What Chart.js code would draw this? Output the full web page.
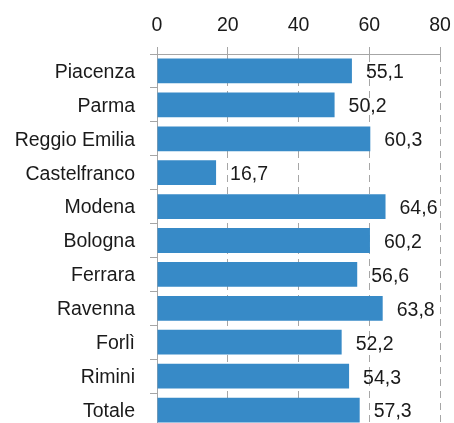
<!DOCTYPE html>
<html lang="it">
<head>
    <meta charset="UTF-8">
    <title>Valori per provincia</title>
    <script src="https://cdn.jsdelivr.net/npm/chart.js"></script>
    <style>
        html, body { margin: 0; padding: 0; background: #fff; overflow: hidden; }
        canvas { display: block; }
    </style>
</head>
<body>
    <canvas id="barChart" width="454" height="427"></canvas>

    <script>
        // Categorie e valori
        const labels = ['Piacenza', 'Parma', 'Reggio Emilia', 'Castelfranco', 'Modena', 'Bologna',
                        'Ferrara', 'Ravenna', 'Forlì', 'Rimini', 'Totale'];
        const values = [55.1, 50.2, 60.3, 16.7, 64.6, 60.2, 56.6, 63.8, 52.2, 54.3, 57.3];
        const xTicks = [0, 20, 40, 60, 80];

        const barColor = '#378ac7';
        const axisColor = '#a6a6a6';
        const textColor = '#1a1a1a';
        const fontFamily = '"Liberation Sans", Arial, sans-serif';
        const fontSize = 19.5;

        const fmt = v => v.toFixed(1).replace('.', ',');

        // Etichette con il valore a destra di ogni barra
        const valueLabels = {
            id: 'valueLabels',
            afterDatasetsDraw(chart) {
                const ctx = chart.ctx;
                const meta = chart.getDatasetMeta(0);
                ctx.save();
                ctx.font = fontSize + 'px ' + fontFamily;
                ctx.fillStyle = textColor;
                ctx.textAlign = 'left';
                ctx.textBaseline = 'middle';
                meta.data.forEach((bar, i) => {
                    ctx.fillText(fmt(values[i]), bar.x + 14, bar.y + 2);
                });
                ctx.restore();
            }
        };

        const ctx = document.getElementById('barChart').getContext('2d');
        new Chart(ctx, {
            type: 'bar',
            data: {
                labels: labels,
                datasets: [{
                    data: values,
                    backgroundColor: barColor,
                    borderWidth: 0,
                    barPercentage: 0.73,
                    categoryPercentage: 1
                }]
            },
            options: {
                indexAxis: 'y',
                responsive: false,
                animation: false,
                layout: { padding: { left: 0, right: 14, top: 0, bottom: 0 } },
                plugins: {
                    legend: { display: false },
                    tooltip: { enabled: false }
                },
                scales: {
                    x: {
                        position: 'top',
                        min: 0,
                        max: 80,
                        afterBuildTicks: s => { s.ticks = xTicks.map(v => ({ value: v })); },
                        afterFit: s => {
                            s.height = 54;
                            s.paddingLeft = 0;
                            s.paddingRight = 0;
                        },
                        ticks: {
                            color: textColor,
                            font: { family: fontFamily, size: fontSize },
                            padding: 10,
                            maxRotation: 0
                        },
                        grid: {
                            color: axisColor,
                            tickLength: 7,
                            tickBorderDash: []
                        },
                        border: { color: axisColor, dash: [7, 5] }
                    },
                    y: {
                        afterFit: s => {
                            s.width = 157;
                            s.paddingTop = 0;
                            s.paddingBottom = 0;
                        },
                        ticks: {
                            color: textColor,
                            font: { family: fontFamily, size: fontSize },
                            padding: 15,
                            labelOffset: 1.5
                        },
                        grid: {
                            offset: true,
                            drawOnChartArea: false,
                            color: axisColor,
                            tickLength: 7
                        },
                        border: { color: axisColor }
                    }
                }
            },
            plugins: [valueLabels]
        });
    </script>
</body>
</html>
